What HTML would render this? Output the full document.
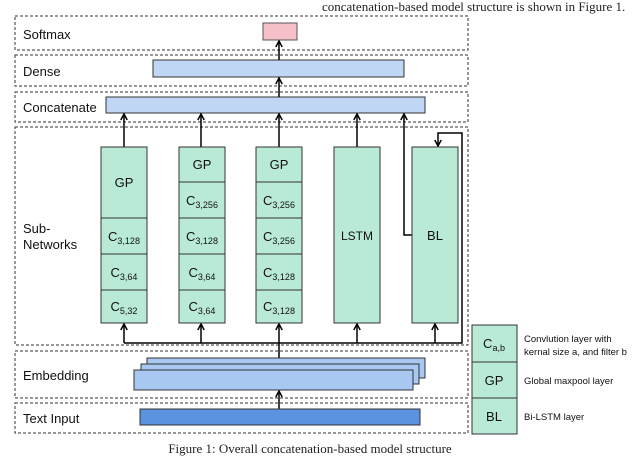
<!DOCTYPE html><html><head><style>body{margin:0;background:#fff}</style></head><body>
<svg width="640" height="458" xmlns="http://www.w3.org/2000/svg" font-family="Liberation Sans, sans-serif">
<defs><marker id="a" markerWidth="8" markerHeight="8" refX="7" refY="4" orient="auto" markerUnits="userSpaceOnUse"><path d="M1,0.8 L7,4 L1,7.2" fill="none" stroke="#000" stroke-width="1.5"/></marker></defs>
<text x="322" y="11" font-family="Liberation Serif, serif" font-size="13" fill="#222">concatenation-based model structure is shown in Figure 1.</text>
<g fill="none" stroke="#333" stroke-dasharray="3,2" stroke-width="1">
<rect x="15" y="16" width="453" height="34"/><rect x="15" y="55" width="453" height="31"/><rect x="15" y="92" width="453" height="30"/><rect x="15" y="127" width="453" height="218"/><rect x="15" y="351" width="453" height="47"/><rect x="15" y="403" width="453" height="30"/></g>
<g font-size="13" fill="#111"><text x="23" y="39">Softmax</text><text x="23" y="76">Dense</text><text x="23" y="112">Concatenate</text><text x="23" y="233">Sub-</text><text x="23" y="249">Networks</text><text x="23" y="380">Embedding</text><text x="23" y="423">Text Input</text></g>
<rect x="263" y="23" width="34" height="17" fill="#f5c0c8" stroke="#555"/>
<rect x="153" y="60" width="251" height="17" fill="#c0d6f5" stroke="#333"/>
<rect x="106" y="97" width="319" height="16" fill="#c0d6f5" stroke="#333"/>
<g stroke="#000" stroke-width="1.5" fill="none">
<line x1="279" y1="60" x2="279" y2="41" marker-end="url(#a)"/>
<line x1="279" y1="97" x2="279" y2="78" marker-end="url(#a)"/>
<line x1="124" y1="147" x2="124" y2="114" marker-end="url(#a)"/>
<line x1="201" y1="147" x2="201" y2="114" marker-end="url(#a)"/>
<line x1="279" y1="147" x2="279" y2="114" marker-end="url(#a)"/>
<line x1="357" y1="147" x2="357" y2="114" marker-end="url(#a)"/>
<polyline points="412,235 404,235 404,114" marker-end="url(#a)"/>
<polyline points="124,343 462,343 462,133 438,133 438,146" marker-end="url(#a)"/>
<line x1="124" y1="343" x2="124" y2="324" marker-end="url(#a)"/>
<line x1="201" y1="343" x2="201" y2="324" marker-end="url(#a)"/>
<line x1="279" y1="358" x2="279" y2="324" marker-end="url(#a)"/>
<line x1="357" y1="343" x2="357" y2="324" marker-end="url(#a)"/>
<line x1="435" y1="343" x2="435" y2="324" marker-end="url(#a)"/>
<line x1="279" y1="409" x2="279" y2="391" marker-end="url(#a)"/>
</g>
<g fill="#b9ead6" stroke="#333">
<rect x="101" y="147" width="46" height="71"/><rect x="101" y="218" width="46" height="36"/><rect x="101" y="254" width="46" height="36"/><rect x="101" y="290" width="46" height="33"/>
<rect x="179" y="147" width="46" height="35"/><rect x="179" y="182" width="46" height="36"/><rect x="179" y="218" width="46" height="36"/><rect x="179" y="254" width="46" height="36"/><rect x="179" y="290" width="46" height="33"/>
<rect x="256" y="147" width="46" height="35"/><rect x="256" y="182" width="46" height="36"/><rect x="256" y="218" width="46" height="36"/><rect x="256" y="254" width="46" height="36"/><rect x="256" y="290" width="46" height="33"/>
<rect x="334" y="147" width="46" height="176"/><rect x="412" y="147" width="46" height="176"/>
<rect x="472" y="325" width="45" height="37"/><rect x="472" y="362" width="45" height="36"/><rect x="472" y="398" width="45" height="36"/>
</g>
<g font-size="13" fill="#111" text-anchor="middle">
<text x="124" y="187">GP</text><text x="202" y="169">GP</text><text x="279" y="169">GP</text>
<text x="124" y="241">C<tspan font-size="9" dy="3">3,128</tspan></text>
<text x="124" y="277">C<tspan font-size="9" dy="3">3,64</tspan></text>
<text x="124" y="311">C<tspan font-size="9" dy="3">5,32</tspan></text>
<text x="202" y="205">C<tspan font-size="9" dy="3">3,256</tspan></text>
<text x="202" y="241">C<tspan font-size="9" dy="3">3,128</tspan></text>
<text x="202" y="277">C<tspan font-size="9" dy="3">3,64</tspan></text>
<text x="202" y="311">C<tspan font-size="9" dy="3">3,64</tspan></text>
<text x="279" y="205">C<tspan font-size="9" dy="3">3,256</tspan></text>
<text x="279" y="241">C<tspan font-size="9" dy="3">3,256</tspan></text>
<text x="279" y="277">C<tspan font-size="9" dy="3">3,128</tspan></text>
<text x="279" y="311">C<tspan font-size="9" dy="3">3,128</tspan></text>
<text x="357" y="240" font-size="12">LSTM</text><text x="435" y="240">BL</text>
<text x="494" y="348">C<tspan font-size="9" dy="3">a,b</tspan></text><text x="494" y="385">GP</text><text x="494" y="421">BL</text>
</g>
<g font-size="9.5" fill="#111"><text x="524" y="342">Convlution layer with</text><text x="524" y="355">kernal size a, and filter b</text><text x="524" y="384">Global maxpool layer</text><text x="524" y="420">Bi-LSTM layer</text></g>
<g stroke="#333"><rect x="147" y="358" width="278" height="20" fill="#a8c8f2"/><rect x="141" y="364" width="278" height="20" fill="#a8c8f2"/><rect x="134" y="370" width="279" height="20" fill="#a8c8f2"/></g>
<rect x="140" y="409" width="280" height="16" fill="#5b93e0" stroke="#333"/>
<text x="310" y="453" text-anchor="middle" font-family="Liberation Serif, serif" font-size="13" fill="#222">Figure 1: Overall concatenation-based model structure</text>
</svg></body></html>
